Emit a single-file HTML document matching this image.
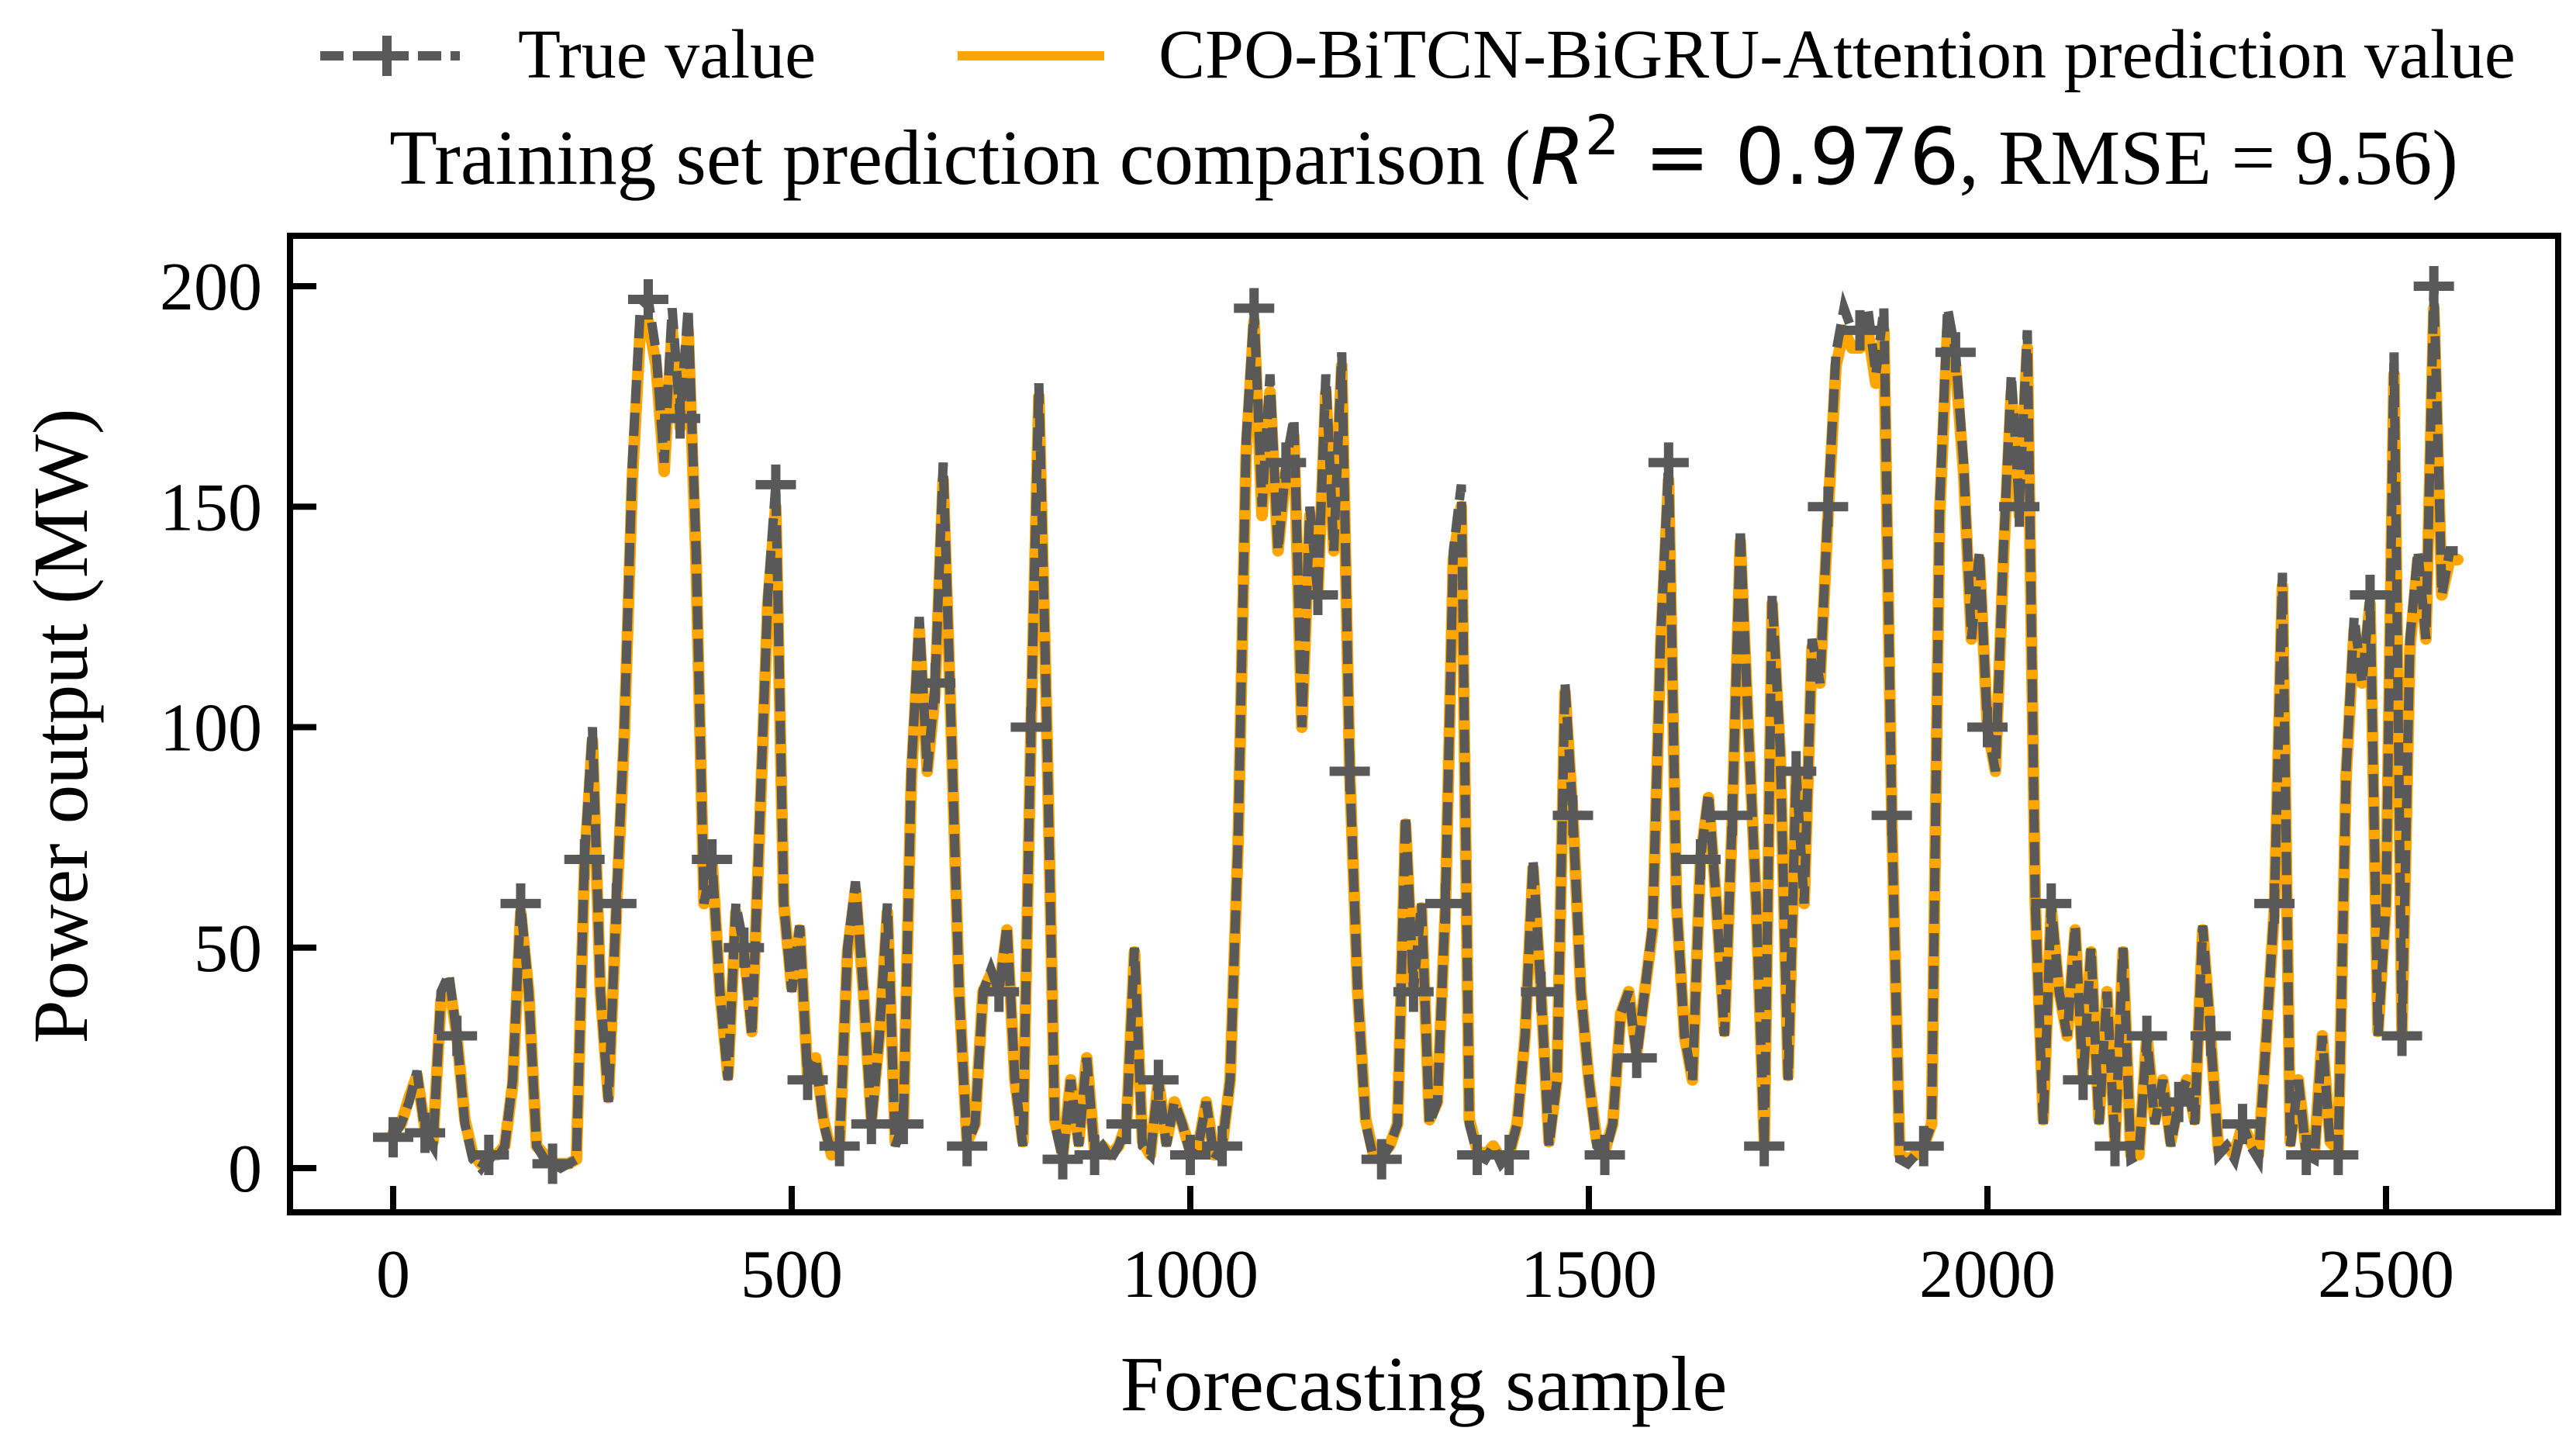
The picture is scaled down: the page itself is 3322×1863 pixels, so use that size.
<!DOCTYPE html>
<html><head><meta charset="utf-8"><style>
html,body{margin:0;padding:0;background:#fff;}
svg{display:block;}
text{font-family:"Liberation Serif",serif;fill:#000;}
</style></head><body>
<svg id="chart" width="3322" height="1863" viewBox="0 0 3322 1863" xmlns="http://www.w3.org/2000/svg">
<g id="legend">
  <g>
    <line x1="413" y1="72" x2="593" y2="72" stroke="#595959" stroke-width="12" stroke-dasharray="30,12"/>
    <path d="M499 46 V98 M473 72 H525" stroke="#595959" stroke-width="12"/>
    <text x="668" y="100" font-size="90">True value</text>
  </g>
  <g>
    <line x1="1235" y1="72" x2="1424" y2="72" stroke="#FFA500" stroke-width="12"/>
    <text x="1494" y="100" font-size="90">CPO-BiTCN-BiGRU-Attention prediction value</text>
  </g>
</g>
<text x="1836" y="237" font-size="101" text-anchor="middle">Training set prediction comparison (<tspan font-family="DejaVu Sans" font-style="italic">R</tspan><tspan font-family="DejaVu Sans" font-size="70" dy="-38">2</tspan><tspan font-family="DejaVu Sans" dy="38"> = 0.976</tspan>, RMSE = 9.56)</text>
<g id="plot"></g>
<rect x="374" y="304" width="2925" height="1259" fill="none" stroke="#000" stroke-width="8"/>
<g id="axes"></g>
<text x="1836" y="1818" font-size="101" text-anchor="middle">Forecasting sample</text>
<text transform="translate(112,936) rotate(-90)" font-size="101" text-anchor="middle">Power output (MW)</text>
</svg>
<script>
const step = 10;
const trueValues = [7,10,15,22,8,5, 40,44,30,10, 2,0,3,2,5,20, 60,40, 5,2,1,0,1,2, 70,100, 40,15,60, 100,160,
 195,197,185,160,195,170,195, 140,60, 70,40,20,60,50,30,80,130,155, 60,40,55,20, 25,10,3,5,50, 65,40,10, 30,60,5,10,
 90,125,90,110,160,100, 40,5,10,40,45, 40,55,20,5,100, 178,100, 10,2,20,5, 25,3,5,2,5,10, 50,5,3,
 20,5,15,10,3,5,15,2,5,20, 75,165,195,150,180,140,160, 170,100,150,130,180,140, 185,90,40,10,2, 2,5,10,
 80,40,60,10, 15,60,140,155, 10,3,2,5,1,3,10,30,70,40,5, 20,110,80,40, 20,5,3,10,35,
 40,25,40,55,120,160,60,30,20, 70,85,60,30,80,145,100,60,5,130, 95,20,90,60,120,110,150,
 185,195,190,190,195,180,195, 80,2,1,3,5,10, 150,195,185,160,120,140,100, 90,140,180,150,190,60,10,
 60,40,30,55,20,50,10,40,5, 50,2,3,30,10,20,5, 15,20,10,55,30,3,5, 2,10,5,2,30,60,135,
 5,20,3,2,30,5,3, 90,125,110,130,30,60,185, 30,120,140,120,200,130,140,140];
const predValues = [8,10,16,21,9,6, 38,42,30,11, 3,1,3,3,5,19, 58,40, 5,3,1,1,1,2, 68,97, 40,16,58, 98,156,
 190,192,182,158,190,168,190, 138,60, 70,40,21,58,50,31,78,128,150, 60,41,54,21, 25,11,3,5,49, 63,40,11, 30,58,6,10,
 88,122,90,108,156,100, 40,6,10,40,44, 40,54,20,6,98, 175,100, 11,3,20,6, 25,4,5,3,5,10, 49,6,3,
 20,6,15,10,4,5,15,3,5,20, 74,162,192,148,176,140,158, 166,100,148,130,176,140, 182,90,40,11,3, 3,5,10,
 78,40,59,11, 15,59,138,150, 11,4,3,5,2,3,10,30,68,40,6, 20,108,80,40, 20,6,4,10,35,
 40,26,40,54,118,156,60,30,20, 70,84,60,31,79,142,100,60,6,128, 94,21,89,60,118,110,148,
 182,190,186,186,190,178,190, 80,3,2,3,5,10, 148,190,182,158,120,138,100, 90,138,176,148,186,60,11,
 59,40,30,54,21,49,11,40,6, 49,3,3,30,11,20,6, 15,20,11,54,30,4,5, 3,10,6,3,30,59,132,
 6,20,4,3,30,6,4, 89,122,110,128,31,60,180, 31,118,138,120,195,130,138,138];
const xTicks = [0,500,1000,1500,2000,2500];
const yTicks = [0,50,100,150,200];
const markerEvery = 4;

const NS = "http://www.w3.org/2000/svg";
function xScale(v){ return 507 + v * (3077 - 507) / 2500; }
function yScale(v){ return 1506 - v * (1506 - 369) / 200; }

const plot = document.getElementById('plot');
const axes = document.getElementById('axes');

function pathFor(vals){
  return vals.map((v,i)=>(i?'L':'M')+xScale(i*step).toFixed(1)+' '+yScale(v).toFixed(1)).join(' ');
}
const pred = document.createElementNS(NS,'path');
pred.setAttribute('d', pathFor(predValues));
pred.setAttribute('fill','none');
pred.setAttribute('stroke','#FFA500');
pred.setAttribute('stroke-width','15');
pred.setAttribute('stroke-linejoin','round');
pred.setAttribute('stroke-linecap','round');


plot.appendChild(pred);

const tru = document.createElementNS(NS,'path');
tru.setAttribute('d', pathFor(trueValues));
tru.setAttribute('fill','none');
tru.setAttribute('stroke','#595959');
tru.setAttribute('stroke-width','12');
tru.setAttribute('stroke-dasharray','30,12');


plot.appendChild(tru);

trueValues.forEach((v,i)=>{
  if(i % markerEvery) return;
  const x = xScale(i*step), y = yScale(v);
  const m = document.createElementNS(NS,'path');
  m.setAttribute('d','M'+x+' '+(y-26)+' V'+(y+26)+' M'+(x-26)+' '+y+' H'+(x+26));
  m.setAttribute('stroke','#595959');
  m.setAttribute('stroke-width','12');
  
  
  plot.appendChild(m);
});

xTicks.forEach(t=>{
  const x = xScale(t);
  const l = document.createElementNS(NS,'line');
  l.setAttribute('x1',x); l.setAttribute('x2',x);
  l.setAttribute('y1',1563); l.setAttribute('y2',1529);
  l.setAttribute('stroke','#000'); l.setAttribute('stroke-width','8');
  
  
  axes.appendChild(l);
  const tx = document.createElementNS(NS,'text');
  tx.setAttribute('x',x); tx.setAttribute('y',1672);
  tx.setAttribute('font-size','88'); tx.setAttribute('text-anchor','middle');
  tx.textContent = t;
  
  
  axes.appendChild(tx);
});
yTicks.forEach(t=>{
  const y = yScale(t);
  const l = document.createElementNS(NS,'line');
  l.setAttribute('x1',374); l.setAttribute('x2',408);
  l.setAttribute('y1',y); l.setAttribute('y2',y);
  l.setAttribute('stroke','#000'); l.setAttribute('stroke-width','8');
  
  
  axes.appendChild(l);
  const tx = document.createElementNS(NS,'text');
  tx.setAttribute('x',338); tx.setAttribute('y',y+30);
  tx.setAttribute('font-size','88'); tx.setAttribute('text-anchor','end');
  tx.textContent = t;
  
  
  axes.appendChild(tx);
});
</script>
</body></html>
